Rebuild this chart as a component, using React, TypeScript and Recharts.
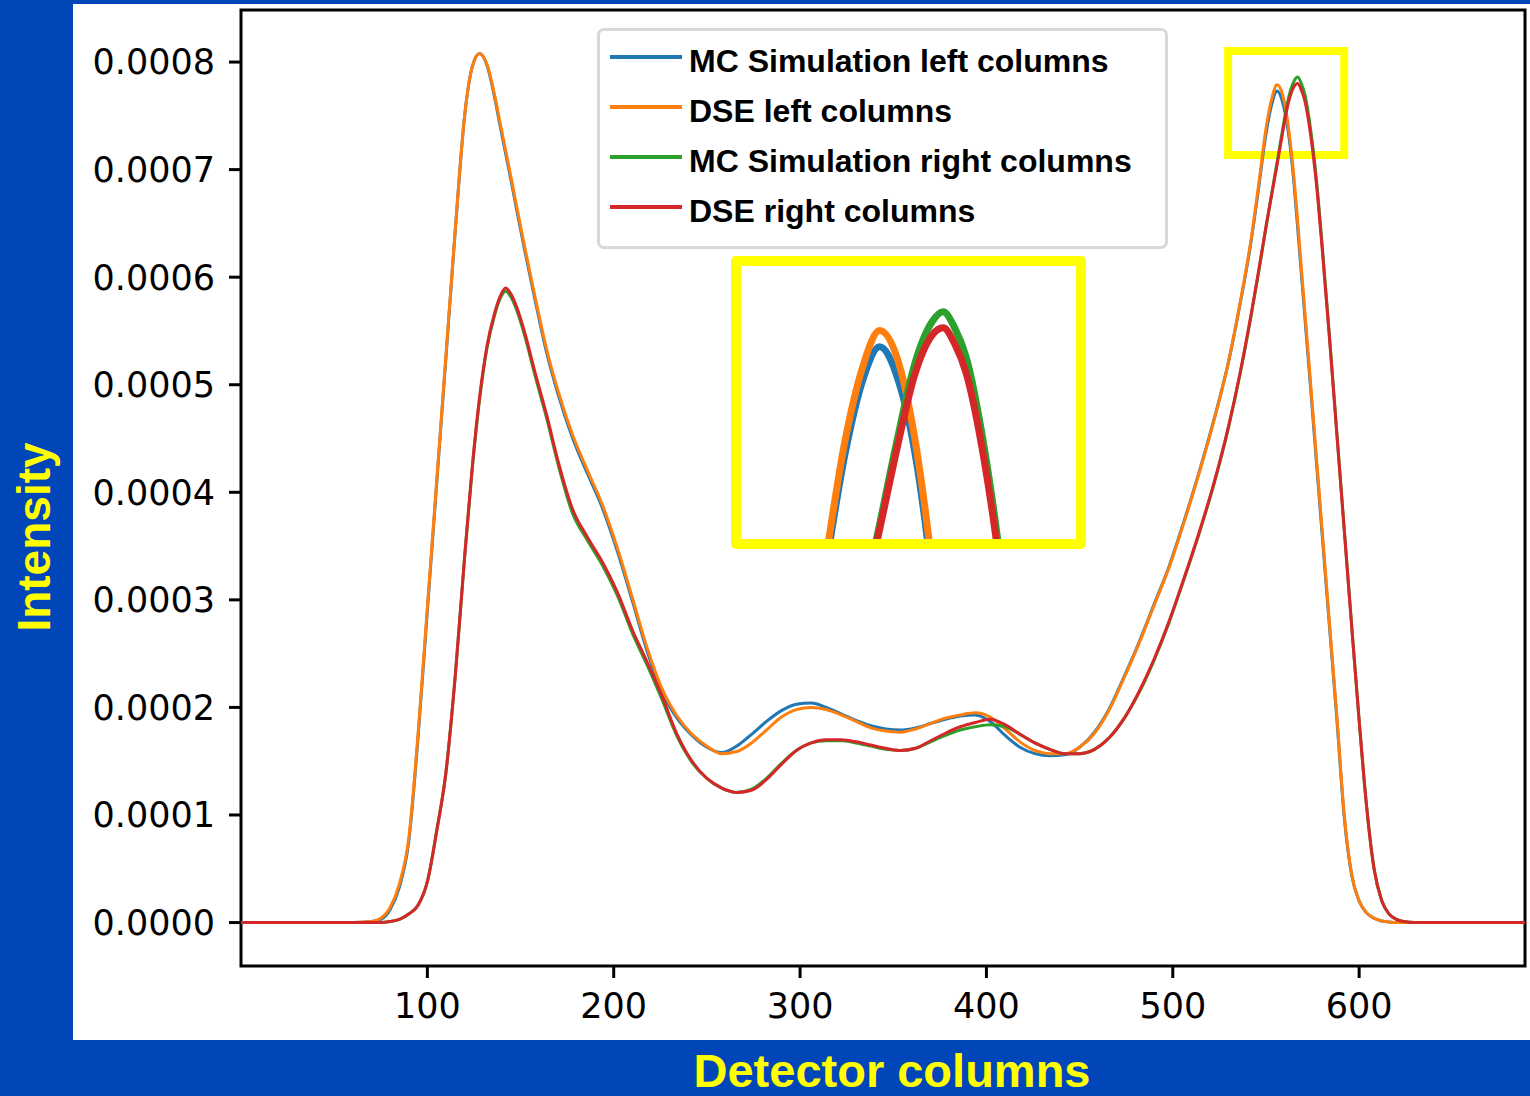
import { LineChart, Line, XAxis, YAxis, ReferenceArea, Legend } from "recharts";

// detector column positions where the curves were sampled
const columns = [
  0, 20, 40, 60, 70, 75, 80, 85, 90, 95,
  100, 105, 110, 115, 120, 124, 128, 132, 136, 139,
  142, 145, 148, 152, 158, 164, 170, 178, 186, 194,
  202, 210, 218, 226, 234, 242, 250, 258, 266, 274,
  282, 290, 298, 306, 314, 322, 330, 338, 346, 354,
  362, 370, 378, 386, 394, 402, 410, 418, 426, 434,
  442, 450, 458, 466, 474, 482, 490, 498, 506, 514,
  522, 530, 536, 542, 546, 550, 553, 556, 559, 562,
  565, 567, 569, 571, 574, 577, 580, 584, 588, 592,
  596, 600, 604, 608, 612, 616, 620, 624, 630, 640,
  660, 689,
];

// intensities, in units of 1e-4
const mcLeft = [
  0, 0, 0, 0, 0.01, 0.03, 0.12, 0.33, 0.75, 1.72,
  2.9, 4.08, 5.26, 6.44, 7.5, 7.95, 8.08, 7.97, 7.68, 7.41,
  7.15, 6.89, 6.62, 6.27, 5.77, 5.3, 4.92, 4.5, 4.17, 3.85,
  3.45, 2.99, 2.52, 2.14, 1.9, 1.74, 1.63, 1.58, 1.64, 1.75,
  1.87, 1.97, 2.03, 2.04, 2.0, 1.94, 1.88, 1.83, 1.8, 1.79,
  1.81, 1.85, 1.89, 1.92, 1.93, 1.87, 1.74, 1.63, 1.57, 1.55,
  1.56, 1.63, 1.77, 1.99, 2.29, 2.61, 2.96, 3.31, 3.73, 4.18,
  4.67, 5.22, 5.74, 6.33, 6.82, 7.33, 7.6, 7.73, 7.62, 7.35,
  6.88, 6.46, 6.03, 5.6, 4.96, 4.3, 3.64, 2.77, 1.9, 0.98,
  0.44, 0.2, 0.09, 0.04, 0.015, 0.005, 0, 0, 0, 0,
  0, 0,
];

const dseLeft = [
  0, 0, 0, 0, 0.01, 0.04, 0.14, 0.36, 0.78, 1.75,
  2.93, 4.1, 5.28, 6.45, 7.5, 7.95, 8.08, 7.98, 7.7, 7.44,
  7.18, 6.92, 6.65, 6.3, 5.8, 5.33, 4.95, 4.53, 4.2, 3.88,
  3.48, 3.02, 2.55, 2.17, 1.92, 1.75, 1.64, 1.57, 1.59, 1.67,
  1.79, 1.91, 1.98, 2.0, 1.98, 1.93, 1.87, 1.81, 1.78, 1.77,
  1.8, 1.85, 1.9, 1.93, 1.95, 1.91, 1.8, 1.68, 1.6, 1.57,
  1.57, 1.63, 1.76, 1.98, 2.28, 2.6, 2.95, 3.3, 3.72, 4.17,
  4.66, 5.22, 5.75, 6.35, 6.85, 7.38, 7.65, 7.79, 7.69, 7.4,
  6.93, 6.52, 6.08, 5.65, 5.0, 4.34, 3.68, 2.8, 1.93, 1.0,
  0.45, 0.2, 0.09, 0.04, 0.015, 0.005, 0, 0, 0, 0,
  0, 0,
];

const mcRight = [
  0, 0, 0, 0, 0, 0, 0.01, 0.03, 0.08, 0.16,
  0.38, 0.85, 1.4, 2.3, 3.4, 4.2, 4.86, 5.34, 5.64, 5.8,
  5.87, 5.81, 5.69, 5.47, 5.07, 4.69, 4.27, 3.8, 3.55, 3.32,
  3.04, 2.69, 2.39, 2.07, 1.73, 1.49, 1.34, 1.25, 1.21, 1.24,
  1.34, 1.48, 1.6, 1.67, 1.69, 1.69, 1.67, 1.64, 1.61, 1.6,
  1.62, 1.68, 1.74, 1.79, 1.82, 1.84, 1.82, 1.75, 1.67, 1.61,
  1.57, 1.57, 1.61, 1.72, 1.9, 2.14, 2.44, 2.79, 3.19, 3.61,
  4.07, 4.61, 5.09, 5.64, 6.04, 6.46, 6.77, 7.07, 7.38, 7.66,
  7.82, 7.86, 7.8, 7.69, 7.37, 6.92, 6.33, 5.47, 4.56, 3.66,
  2.76, 1.88, 1.08, 0.5, 0.21, 0.08, 0.03, 0.01, 0, 0,
  0, 0,
];

const dseRight = [
  0, 0, 0, 0, 0, 0, 0.01, 0.03, 0.08, 0.16,
  0.38, 0.85, 1.4, 2.3, 3.4, 4.22, 4.88, 5.36, 5.66, 5.82,
  5.9, 5.84, 5.72, 5.5, 5.1, 4.72, 4.3, 3.84, 3.58, 3.35,
  3.07, 2.72, 2.42, 2.1, 1.75, 1.5, 1.34, 1.25, 1.21, 1.23,
  1.33, 1.47, 1.6, 1.67, 1.7, 1.7, 1.68, 1.65, 1.62, 1.6,
  1.62, 1.69, 1.76, 1.82, 1.86, 1.89, 1.84, 1.75, 1.67, 1.61,
  1.57, 1.57, 1.61, 1.72, 1.9, 2.15, 2.45, 2.8, 3.2, 3.62,
  4.08, 4.62, 5.1, 5.65, 6.05, 6.47, 6.76, 7.05, 7.35, 7.62,
  7.77, 7.8, 7.74, 7.63, 7.32, 6.88, 6.3, 5.45, 4.55, 3.65,
  2.75, 1.88, 1.08, 0.5, 0.21, 0.08, 0.03, 0.01, 0, 0,
  0, 0,
];

const xTicks = [100, 200, 300, 400, 500, 600];
const yTicks = [0, 0.0001, 0.0002, 0.0003, 0.0004, 0.0005, 0.0006, 0.0007, 0.0008];

const series = [
  { key: "mcLeft", name: "MC Simulation left columns", color: "#1f77b4", values: mcLeft },
  { key: "dseLeft", name: "DSE left columns", color: "#ff7f0e", values: dseLeft },
  { key: "mcRight", name: "MC Simulation right columns", color: "#2ca02c", values: mcRight },
  { key: "dseRight", name: "DSE right columns", color: "#d62728", values: dseRight },
];

const data = columns.map((x, i) => {
  const row: Record<string, number> = { x };
  series.forEach((s) => {
    row[s.key] = s.values[i] * 1e-4;
  });
  return row;
});

const xDomain = [0, 689];
const yDomain = [-0.0000404, 0.0008484];

// zoom box around the right-hand peaks and the magnified copy of it
const zoomBox = { x1: 529.7, x2: 592, y1: 0.0007135, y2: 0.0008102 };
const insetX = [532, 590];
const insetY = [0.0007015, 0.000803];

const YELLOW = "#ffff00";
const BLUE = "#0046b8";
const tickFont = { fill: "#000", fontSize: 35, fontFamily: "DejaVu Sans" };

function LegendBox(props: any) {
  const order = series.map((s) => s.key);
  const items = [...(props.payload ?? [])].sort(
    (a: any, b: any) => order.indexOf(a.dataKey) - order.indexOf(b.dataKey)
  );
  return (
    <div
      style={{
        width: 571,
        height: 221,
        boxSizing: "border-box",
        border: "3px solid #d8d8d8",
        borderRadius: 7,
        background: "#fff",
        padding: "5px 0 0 10px",
      }}
    >
      {items.map((it: any) => (
        <div key={it.value} style={{ display: "flex", alignItems: "center", height: 50 }}>
          <span
            style={{
              display: "inline-block",
              width: 72,
              height: 4,
              background: it.color,
              marginRight: 7,
              position: "relative",
              top: -4,
            }}
          />
          <span
            style={{
              fontFamily: '"Liberation Sans", Arial, sans-serif',
              fontWeight: "bold",
              fontSize: 32,
              color: "#000",
              whiteSpace: "nowrap",
            }}
          >
            {it.value}
          </span>
        </div>
      ))}
    </div>
  );
}

export default function App() {
  return (
    <div
      style={{
        position: "absolute",
        left: 0,
        top: 0,
        width: 1530,
        height: 1096,
        background: BLUE,
        overflow: "hidden",
      }}
    >
      <div style={{ position: "absolute", left: 73, top: 4, width: 1457, height: 1036, background: "#fff" }} />

      <div style={{ position: "absolute", left: 0, top: 0 }}>
        <LineChart width={1530} height={1096} data={data} margin={{ top: 10, right: 5, bottom: 80, left: 91 }}>
          <XAxis
            dataKey="x"
            type="number"
            domain={xDomain}
            ticks={xTicks}
            axisLine={false}
            tickSize={12}
            tickMargin={15}
            tickLine={{ stroke: "#000", strokeWidth: 3 }}
            tick={tickFont}
            height={50}
          />
          <YAxis
            type="number"
            domain={yDomain}
            ticks={yTicks}
            tickFormatter={(v: number) => v.toFixed(4)}
            axisLine={false}
            tickSize={12}
            tickMargin={14}
            tickLine={{ stroke: "#000", strokeWidth: 3 }}
            tick={tickFont}
            width={150}
          />
          {series.map((s) => (
            <Line
              key={s.key}
              dataKey={s.key}
              name={s.name}
              stroke={s.color}
              strokeWidth={3}
              type="monotone"
              dot={false}
              isAnimationActive={false}
            />
          ))}
          <ReferenceArea
            x1={zoomBox.x1}
            x2={zoomBox.x2}
            y1={zoomBox.y1}
            y2={zoomBox.y2}
            fill="none"
            stroke={YELLOW}
            strokeWidth={8}
          />
          <ReferenceArea
            x1={xDomain[0]}
            x2={xDomain[1]}
            y1={yDomain[0]}
            y2={yDomain[1]}
            fill="none"
            stroke="#000"
            strokeWidth={3}
          />
          <Legend
            layout="vertical"
            align="center"
            verticalAlign="middle"
            content={<LegendBox />}
            wrapperStyle={{ left: 597, top: 28, width: 571 }}
          />
        </LineChart>
      </div>

      <div
        style={{
          position: "absolute",
          left: 731,
          top: 256,
          width: 355,
          height: 293,
          boxSizing: "border-box",
          border: `10px solid ${YELLOW}`,
          borderRadius: 5,
          background: "#fff",
        }}
      >
        <LineChart width={335} height={273} data={data} margin={{ top: 0, right: 0, bottom: 0, left: 0 }}>
          <XAxis dataKey="x" type="number" domain={insetX} allowDataOverflow hide />
          <YAxis type="number" domain={insetY} allowDataOverflow hide />
          {series.map((s) => (
            <Line
              key={s.key}
              dataKey={s.key}
              stroke={s.color}
              strokeWidth={7}
              type="monotone"
              dot={false}
              isAnimationActive={false}
            />
          ))}
        </LineChart>
      </div>

      <div
        style={{
          position: "absolute",
          left: 34,
          top: 537,
          transform: "translate(-50%, -50%) rotate(-90deg)",
          color: YELLOW,
          fontFamily: '"Liberation Sans", Arial, sans-serif',
          fontWeight: "bold",
          fontSize: 46,
          lineHeight: 1,
          whiteSpace: "nowrap",
        }}
      >
        Intensity
      </div>
      <div
        style={{
          position: "absolute",
          left: 892,
          top: 1047,
          transform: "translateX(-50%)",
          color: YELLOW,
          fontFamily: '"Liberation Sans", Arial, sans-serif',
          fontWeight: "bold",
          fontSize: 47,
          lineHeight: 1,
          whiteSpace: "nowrap",
        }}
      >
        Detector columns
      </div>
    </div>
  );
}
